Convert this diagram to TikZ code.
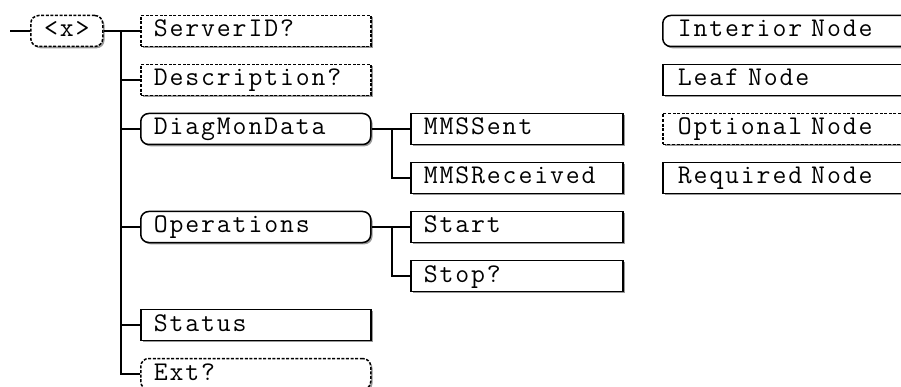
\documentclass[tikz,border=0pt]{standalone}
\usepackage{fontspec}
\newfontfamily\boxfont{Latin Modern Mono}[LetterSpace=7]
\begin{document}
\begin{tikzpicture}[x=1pt,y=-1pt,
  base/.style={draw=black, line width=1.5pt, fill=white, minimum height=31pt,
    inner xsep=13pt, inner ysep=0pt, anchor=west, align=left,
    text height=18pt, text depth=6pt,
    font=\fontsize{27}{28}\selectfont\boxfont,
    preaction={fill=black!40, transform canvas={xshift=1.8pt,yshift=-1.8pt}}},
  leaf/.style={base, rectangle},
  interior/.style={base, rounded corners=8pt},
  optional/.style={dash pattern=on 3pt off 1.6pt},
  lvla/.style={text width=204pt},
  lvlb/.style={text width=186pt},
  lgd/.style={text width=230pt, inner xsep=15pt},
  conn/.style={draw=black, line width=1.5pt}]
\useasboundingbox (0,0) rectangle (901,387);
\clip (0,0) rectangle (901,387);
\fill[white] (0,0) rectangle (901,387);

% root
\node[interior, optional, minimum width=72pt, inner xsep=0pt, align=center] (root) at (30,31) {<x>};
\coordinate (start) at (10,31);
\draw[conn] (start) -- (root.west);

% level 1
\node[leaf, optional, lvla] (server) at (140,31) {ServerID?};
\node[leaf, optional, lvla] (desc) at (140,80) {Description?};
\node[interior, lvla] (diag) at (140,129) {DiagMonData};
\node[interior, lvla] (ops) at (140,227) {Operations};
\node[leaf, lvla] (status) at (140,325) {Status};
\node[interior, optional, lvla] (ext) at (140,374) {Ext?};

% level 2
\node[leaf, lvlb] (sent) at (410,129) {MMSSent};
\node[leaf, lvlb] (recv) at (410,178) {MMSReceived};
\node[leaf, lvlb] (startn) at (410,227) {Start};
\node[leaf, lvlb] (stop) at (410,276) {Stop?};

% legend
\node[interior, lgd] (lint) at (662,31) {Interior Node};
\node[leaf, lgd] (lleaf) at (662,80) {Leaf Node};
\node[leaf, optional, lgd] (lopt) at (662,129) {Optional Node};
\node[leaf, lgd] (lreq) at (662,178) {Required Node};

% connectors level 1
\coordinate (t1) at (121,31);
\draw[conn] (root.east) -- (server.west);
\draw[conn] (t1) |- (desc.west);
\draw[conn] (t1) |- (diag.west);
\draw[conn] (t1) |- (ops.west);
\draw[conn] (t1) |- (status.west);
\draw[conn] (t1) |- (ext.west);

% connectors level 2
\coordinate (t2) at (392,129);
\coordinate (t3) at (392,227);
\draw[conn] (diag.east) -- (sent.west);
\draw[conn] (t2) |- (recv.west);
\draw[conn] (ops.east) -- (startn.west);
\draw[conn] (t3) |- (stop.west);
\end{tikzpicture}
\end{document}
